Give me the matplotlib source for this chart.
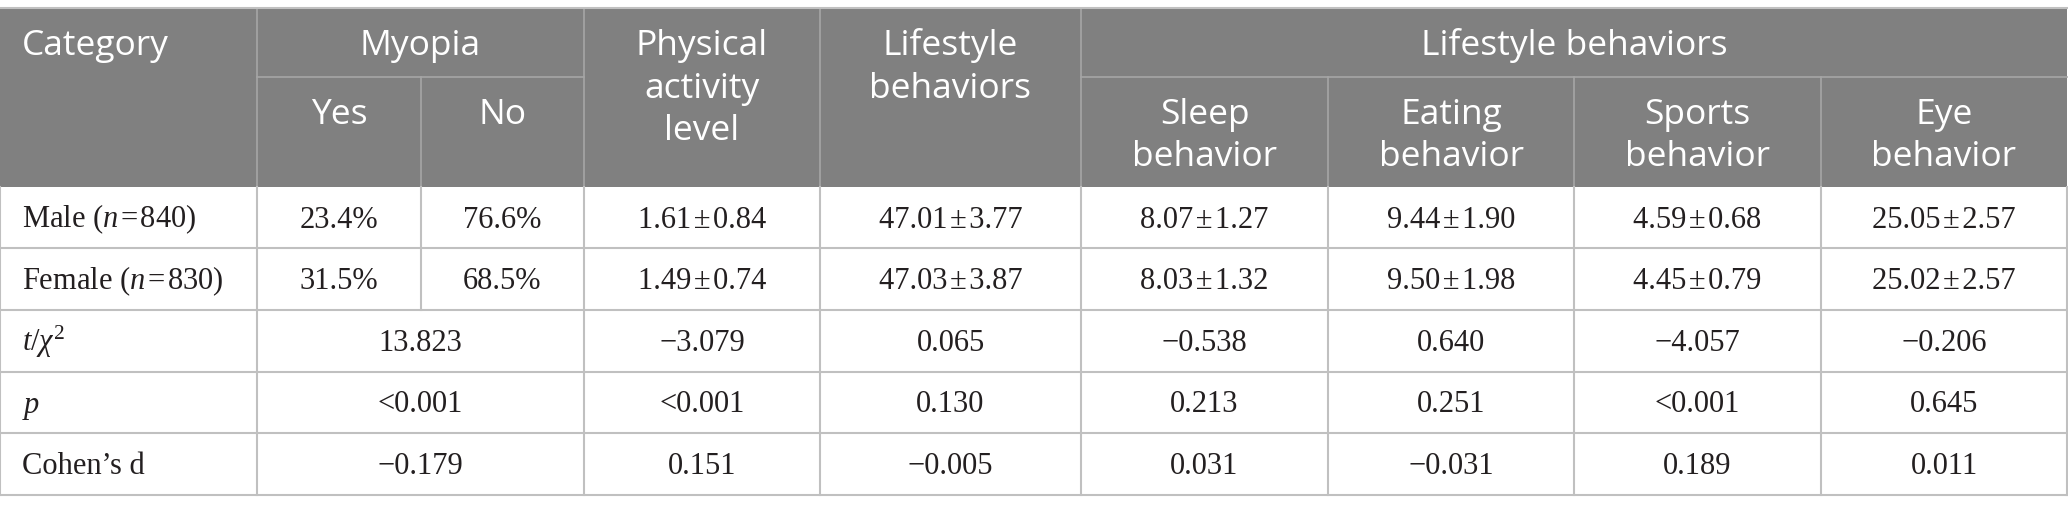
import matplotlib
matplotlib.use("Agg")
import matplotlib.pyplot as plt
from matplotlib.patches import Rectangle

plt.rcParams['mathtext.fontset'] = 'custom'
plt.rcParams['mathtext.rm'] = 'Liberation Serif'
plt.rcParams['mathtext.it'] = 'Liberation Serif:italic'

# --- table contents ---
row_labels = ["Male ($n$\u200a=\u200a840)", "Female ($n$\u200a=\u200a830)"]
myopia_yes = ["23.4%", "31.5%"]
myopia_no = ["76.6%", "68.5%"]
physical = ["1.61\u200a±\u200a0.84", "1.49\u200a±\u200a0.74"]
lifestyle = ["47.01\u200a±\u200a3.77", "47.03\u200a±\u200a3.87"]
sleep = ["8.07\u200a±\u200a1.27", "8.03\u200a±\u200a1.32"]
eating = ["9.44\u200a±\u200a1.90", "9.50\u200a±\u200a1.98"]
sports = ["4.59\u200a±\u200a0.68", "4.45\u200a±\u200a0.79"]
eye = ["25.05\u200a±\u200a2.57", "25.02\u200a±\u200a2.57"]

stat_labels = [r"$t/\chi^2$", r"$p$", "Cohen\u2019s d"]
t_chi2 = ["13.823", "\u22123.079", "0.065", "\u22120.538", "0.640", "\u22124.057", "\u22120.206"]
p_vals = ["<0.001", "<0.001", "0.130", "0.213", "0.251", "<0.001", "0.645"]
cohen_d = ["\u22120.179", "0.151", "\u22120.005", "0.031", "\u22120.031", "0.189", "0.011"]

sub_headers = ["Yes", "No", "Physical\nactivity\nlevel", "Lifestyle\nbehaviors",
               "Sleep\nbehavior", "Eating\nbehavior", "Sports\nbehavior", "Eye\nbehavior"]

# --- layout (pixels) ---
W, H = 2068, 514
col_x = [0, 257, 421, 584, 820, 1081, 1328, 1574, 1821, 2067]
top, mid, head_bot = 8, 77, 187
row_y = [187, 248, 310, 372, 433, 495]

HEAD_BG = "#808080"
LINE = "#c0c0c0"
HEAD_LINE = "#a6a6a6"
sans = ["Open Sans", "DejaVu Sans"]
serif = ["Liberation Serif", "DejaVu Serif"]
hsize = 25.5
bsize = 22
lsp = 42.5

fig = plt.figure(figsize=(W / 100, H / 100), dpi=100)
ax = fig.add_axes([0, 0, 1, 1])
ax.set_xlim(0, W)
ax.set_ylim(H, 0)
ax.axis("off")

ax.add_patch(Rectangle((0, top), col_x[-1], head_bot - top, color=HEAD_BG, lw=0))

# header lines
for x in [col_x[1], col_x[3], col_x[4], col_x[5]]:
    ax.plot([x, x], [top, head_bot], color=HEAD_LINE, lw=1.2)
for x in [col_x[2], col_x[6], col_x[7], col_x[8]]:
    ax.plot([x, x], [mid, head_bot], color=HEAD_LINE, lw=1.2)
ax.plot([col_x[1], col_x[3]], [mid, mid], color=HEAD_LINE, lw=1.2)
ax.plot([col_x[5], col_x[-1]], [mid, mid], color=HEAD_LINE, lw=1.2)

# header text
def head(x, y0, s):
    for i, line in enumerate(s.split("\n")):
        ax.text(x, y0 + 47 + i * lsp, line, ha="center", va="baseline",
                color="white", fontsize=hsize, family=sans)

ax.text(22, top + 47, "Category", ha="left", va="baseline", color="white",
        fontsize=hsize, family=sans)
head((col_x[1] + col_x[3]) / 2, top, "Myopia")
head((col_x[5] + col_x[-1]) / 2, top, "Lifestyle behaviors")
for i, s in enumerate(sub_headers):
    cx = (col_x[i + 1] + col_x[i + 2]) / 2
    y0 = top if i in (2, 3) else mid
    head(cx, y0, s)

# body lines
ax.plot([0, col_x[-1]], [top, top], color=LINE, lw=1.5)
for y in row_y[1:]:
    ax.plot([0, col_x[-1]], [y, y], color=LINE, lw=1.5)
for x in [0] + col_x[1:2] + col_x[3:]:
    ax.plot([x, x], [row_y[0], row_y[-1]], color=LINE, lw=1.5)
ax.plot([col_x[2], col_x[2]], [row_y[0], row_y[2]], color=LINE, lw=1.5)

def body(x, r, s, ha="center"):
    yc = (row_y[r] + row_y[r + 1]) / 2
    ax.text(x, yc + 10, s, ha=ha, va="baseline", color="#231f20",
            fontsize=bsize, family=serif)

group_cols = [myopia_yes, myopia_no, physical, lifestyle, sleep, eating, sports, eye]
for r in range(2):
    body(22, r, row_labels[r], ha="left")
    for c, vals in enumerate(group_cols):
        body((col_x[c + 1] + col_x[c + 2]) / 2, r, vals[r])

merged_x = [(col_x[1] + col_x[3]) / 2] + [(col_x[c] + col_x[c + 1]) / 2 for c in range(3, 9)]
for r, (lab, vals) in enumerate(zip(stat_labels, [t_chi2, p_vals, cohen_d])):
    body(22, r + 2, lab, ha="left")
    for x, v in zip(merged_x, vals):
        body(x, r + 2, v)

fig.savefig("out.png", dpi=100, facecolor="white")
